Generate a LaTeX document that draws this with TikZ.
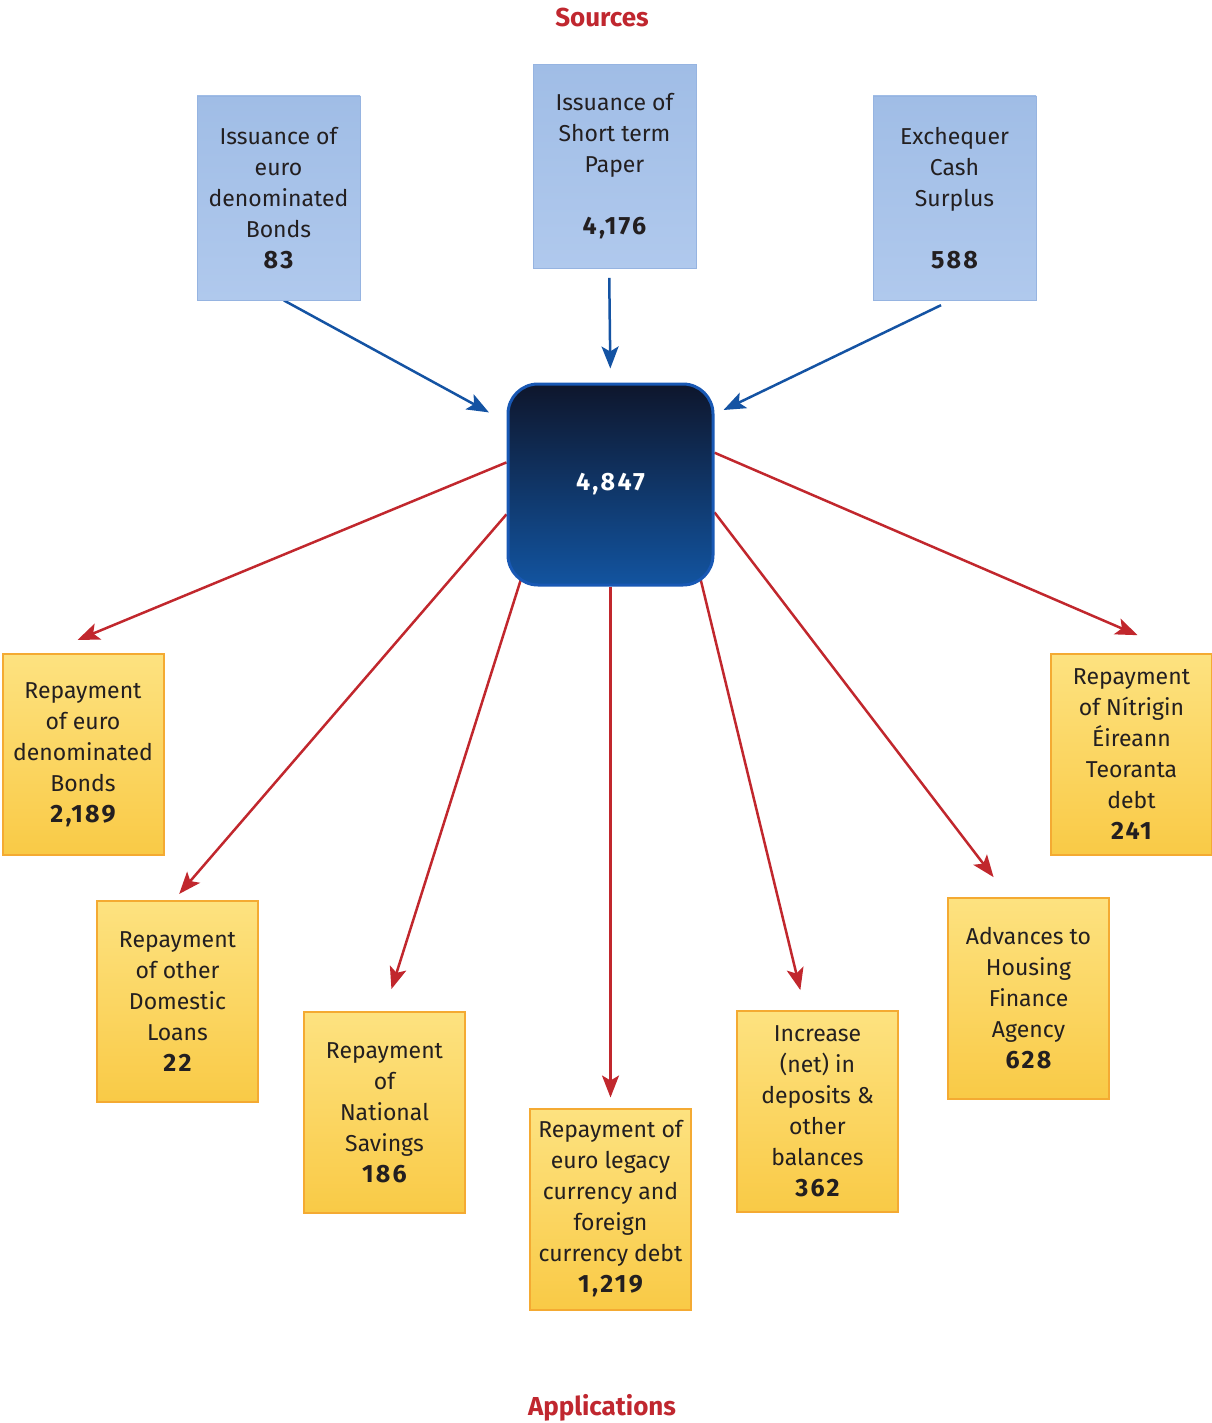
\documentclass[tikz,border=0pt]{standalone}
\usepackage{fontspec}
\setmainfont{Fira Sans}
\usepackage{xcolor}
\usetikzlibrary{arrows.meta,backgrounds}

\definecolor{textgray}{RGB}{35,31,32}
\definecolor{titlered}{RGB}{192,39,47}
\definecolor{blueTop}{RGB}{160,189,230}
\definecolor{blueBot}{RGB}{176,201,237}
\definecolor{blueEdge}{RGB}{150,180,225}
\definecolor{yelTop}{RGB}{253,226,128}
\definecolor{yelBot}{RGB}{249,202,70}
\definecolor{yelEdge}{RGB}{244,170,50}
\definecolor{hubTop}{RGB}{14,22,44}
\definecolor{hubMid}{RGB}{20,38,78}
\definecolor{hubBot}{RGB}{18,84,160}
\definecolor{hubEdge}{RGB}{24,88,180}
\definecolor{arrowblue}{RGB}{20,83,163}
\definecolor{arrowred}{RGB}{193,39,45}

\newcommand{\amt}[1]{{\fontsize{12.5}{15.5}\selectfont\bfseries\addfontfeature{LetterSpace=9}#1}}

\begin{document}
\begin{tikzpicture}[
    x=0.5pt, y=-0.5pt,
    every node/.style={font=\fontsize{11.5}{15.5}\selectfont, text=textgray},
    srcbox/.style={rectangle, minimum width=81.5pt, minimum height=102pt,
      inner sep=0pt, align=center, top color=blueTop, bottom color=blueBot,
      draw=blueEdge, line width=0.4pt},
    usebox/.style={rectangle, minimum width=80.5pt, minimum height=100.5pt,
      inner sep=0pt, align=center, top color=yelTop, bottom color=yelBot,
      draw=yelEdge, line width=1pt},
    hubbox/.style={rectangle, rounded corners=15pt, minimum width=102.5pt,
      minimum height=100.5pt, inner sep=0pt, draw=hubEdge, line width=1.5pt,
      top color=hubTop, middle color=hubMid, bottom color=hubBot, text=white},
    title/.style={font=\fontsize{13}{15}\selectfont\bfseries, text=titlered},
    inarrow/.style={-{Stealth[length=11pt, width=8.5pt, inset=2.5pt]},
      line width=1.25pt, draw=arrowblue},
    outarrow/.style={-{Stealth[length=11pt, width=8.5pt, inset=2.5pt]},
      line width=1.25pt, draw=arrowred}
  ]
    \useasboundingbox (0,0) rectangle (1211,1423);

    \node[title] (sources) at (602,17) {Sources};
    \node[title] (applications) at (602,1408) {Applications};

    % sources
    \node[srcbox] (src1) at (278.5,198) {Issuance of\\euro\\denominated\\Bonds\\\amt{83}};
    \node[srcbox] (src2) at (614.5,166.5) {Issuance of\\Short term\\Paper\\[15.5pt]\amt{4,176}};
    \node[srcbox] (src3) at (954.5,198) {Exchequer\\Cash\\Surplus\\[15.5pt]\amt{588}};

    \node[hubbox] (hub) at (610.5,484.5) {\amt{4,847}};

    % applications
    \node[usebox] (use1) at (83,754.5) {Repayment\\of euro\\denominated\\Bonds\\\amt{2,189}};
    \node[usebox] (use2) at (177.5,1001.5) {Repayment\\of other\\Domestic\\Loans\\\amt{22}};
    \node[usebox] (use3) at (384.5,1112.5) {Repayment\\of\\National\\Savings\\\amt{186}};
    \node[usebox] (use4) at (610.5,1209) {Repayment of\\euro legacy\\currency and\\foreign\\currency debt\\\amt{1,219}};
    \node[usebox] (use5) at (817.5,1111) {Increase\\(net) in\\deposits \&\\other\\balances\\\amt{362}};
    \node[usebox] (use6) at (1028.5,998.5) {Advances to\\Housing\\Finance\\Agency\\\amt{628}};
    \node[usebox] (use7) at (1131.5,754.5) {Repayment\\of Nítrigin\\Éireann\\Teoranta\\debt\\\amt{241}};

    \begin{scope}[on background layer]
      \draw[inarrow, shorten >=10pt] (src1.273) -- (hub.149);
      \draw[inarrow, shorten <=4.5pt, shorten >=7pt] (src2.267) -- (hub.north);
      \draw[inarrow, shorten <=5.5pt, shorten >=5pt] (src3.268) -- (hub.34);

      \draw[outarrow, shorten >=17pt] (hub.168) -- (use1.110);
      \draw[outarrow, shorten >=4pt] (hub.196) -- (use2.92);
      \draw[outarrow, shorten <=-5pt, shorten >=11.5pt] (hub.228) -- (use3.north);
      \draw[outarrow, shorten >=5pt] (hub.south) -- (use4.north);
      \draw[outarrow, shorten <=-5pt, shorten >=10pt] (hub.312) -- (use5.97);
      \draw[outarrow, shorten >=12.5pt] (hub.345) -- (use6.101);
      \draw[outarrow, shorten >=22.5pt] (hub.17) -- (use7.65);
    \end{scope}
  \end{tikzpicture}
\end{document}
